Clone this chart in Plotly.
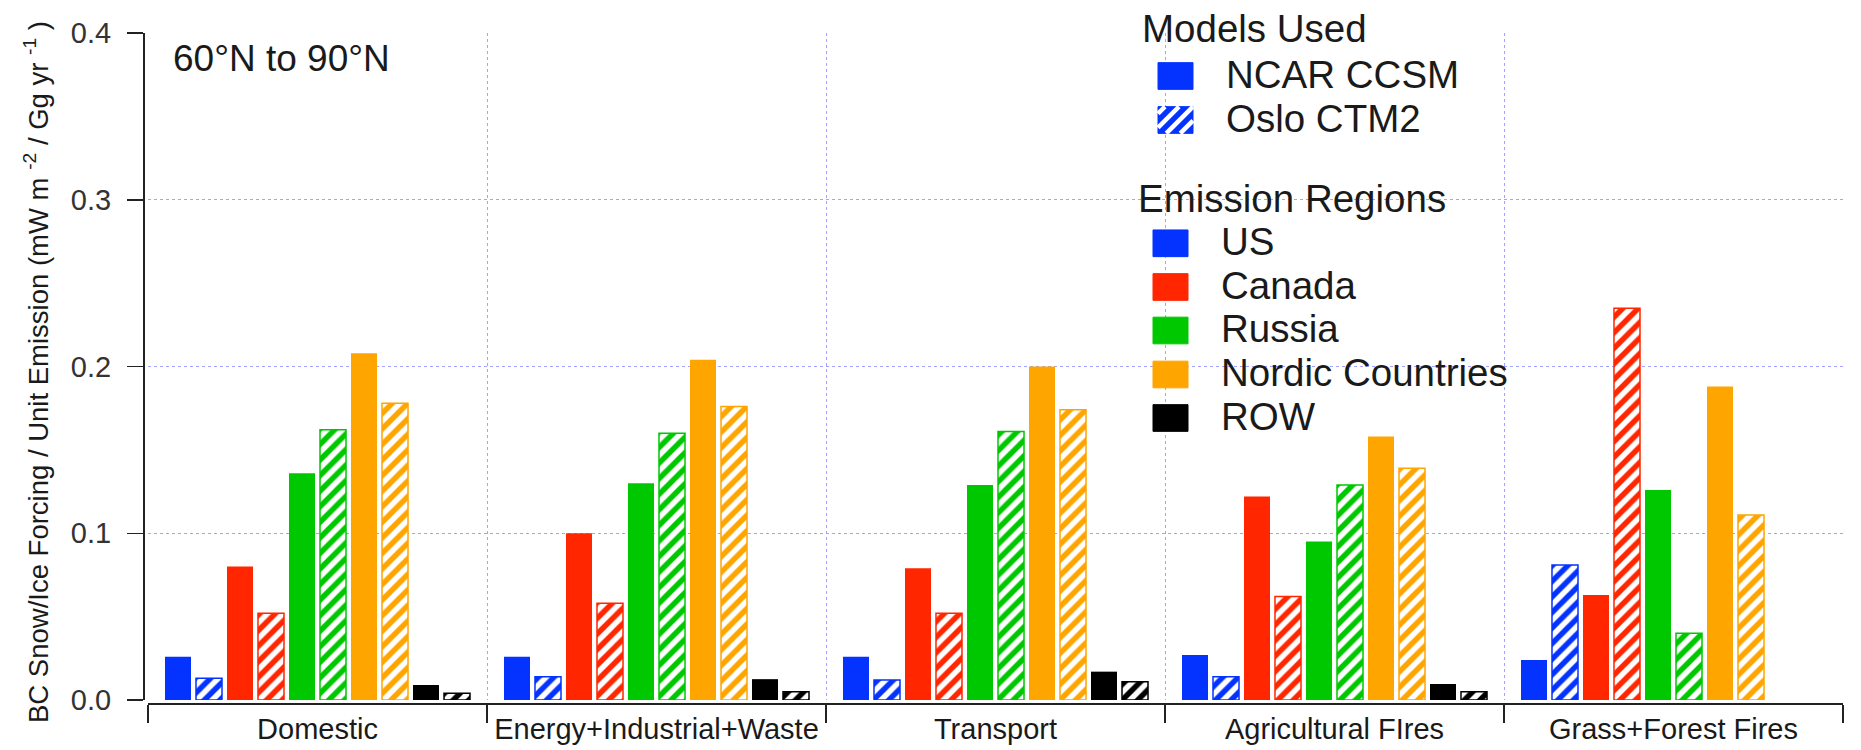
import plotly.graph_objects as go

# ---------------- data ----------------
categories = ["Domestic", "Energy+Industrial+Waste", "Transport",
              "Agricultural FIres", "Grass+Forest Fires"]
regions = ["US", "Canada", "Russia", "Nordic Countries", "ROW"]
region_colors = ["#0433ff", "#ff2600", "#00c800", "#ffa500", "#000000"]
models = ["NCAR CCSM", "Oslo CTM2"]

ncar_us     = [0.026, 0.026, 0.026, 0.027, 0.024]
ncar_canada = [0.080, 0.100, 0.079, 0.122, 0.063]
ncar_russia = [0.136, 0.130, 0.129, 0.095, 0.126]
ncar_nordic = [0.208, 0.204, 0.200, 0.158, 0.188]
ncar_row    = [0.009, 0.0125, 0.017, 0.0096, None]

oslo_us     = [0.013, 0.014, 0.012, 0.014, 0.081]
oslo_canada = [0.052, 0.058, 0.052, 0.062, 0.235]
oslo_russia = [0.162, 0.160, 0.161, 0.129, 0.040]
oslo_nordic = [0.178, 0.176, 0.174, 0.139, 0.111]
oslo_row    = [0.004, 0.005, 0.011, 0.005, None]

ncar_values = [ncar_us, ncar_canada, ncar_russia, ncar_nordic, ncar_row]
oslo_values = [oslo_us, oslo_canada, oslo_russia, oslo_nordic, oslo_row]

y_ticks = [0.0, 0.1, 0.2, 0.3, 0.4]

# ---------------- layout geometry (page pixels) ----------------
W, H = 1861, 750
PL, PR, PT, PB = 143, 1843, 33, 703     # plot frame
ML, MR, MT, MB = PL, W - PR, PT, H - PB
PW, PH = PR - PL, PB - PT
X0 = 148     # first category boundary
Y0 = 700     # y = 0

FONT = "Liberation Sans, Arial, Helvetica, sans-serif"
GRID = "#a3a3ff"
TXT = "#1a1a1a"


def px(x):
    return (x - PL) / PW


def py(y):
    return (PB - y) / PH


fig = go.Figure()

for name, col, nv, ov in zip(regions, region_colors, ncar_values, oslo_values):
    fig.add_trace(go.Bar(
        x=categories, y=nv, name=name + " (NCAR CCSM)",
        marker=dict(color=col, line=dict(width=0)),
        showlegend=False,
    ))
    fig.add_trace(go.Bar(
        x=categories, y=ov, name=name + " (Oslo CTM2)",
        marker=dict(color=col, line=dict(color=col, width=1.5),
                    pattern=dict(shape="/", fgcolor="white", bgcolor=col,
                                 size=11, solidity=0.5, fillmode="replace")),
        showlegend=False,
    ))

shapes = []
annotations = []

# white legend backgrounds (hide the grid behind the legends)
shapes.append(dict(type="rect", xref="paper", yref="paper", layer="between",
                   x0=px(1133), x1=px(1458), y0=py(137), y1=py(8),
                   fillcolor="white", line=dict(width=0)))
shapes.append(dict(type="rect", xref="paper", yref="paper", layer="between",
                   x0=px(1127), x1=px(1512), y0=py(436), y1=py(173),
                   fillcolor="white", line=dict(width=0)))


def swatch(x0, yc, color, hatched=False, w=35.0, h=26.7):
    y0 = yc - h / 2
    shapes.append(dict(type="rect", xref="paper", yref="paper", layer="above",
                       x0=px(x0), x1=px(x0 + w), y0=py(y0 + h), y1=py(y0),
                       fillcolor=color, line=dict(color=color, width=1)))
    if hatched:
        c = 7.0
        while c < w + h:
            if c - h < 0:
                sx, sy = x0, y0 + c
            else:
                sx, sy = x0 + c - h, y0 + h
            if c > w:
                ex, ey = x0 + w, y0 + c - w
            else:
                ex, ey = x0 + c, y0
            shapes.append(dict(type="line", xref="paper", yref="paper", layer="above",
                               x0=px(sx), y0=py(sy), x1=px(ex), y1=py(ey),
                               line=dict(color="white", width=4.5)))
            c += 14.0


def label(x, yc, text, size=38.5):
    annotations.append(dict(xref="paper", yref="paper", x=px(x), y=py(yc),
                            xanchor="left", yanchor="middle", showarrow=False,
                            text=text, font=dict(family=FONT, size=size, color=TXT)))


# Models Used legend
label(1140, 29, "Models Used")
swatch(1158, 76, region_colors[0])
label(1224, 74, models[0])
swatch(1158, 120, region_colors[0], hatched=True)
label(1224, 118, models[1])

# Emission Regions legend
label(1136, 198, "Emission Regions")
row_y = [243.3, 287, 330.5, 374.5, 418]
for nm, col, yc in zip(regions, region_colors, row_y):
    swatch(1153, yc, col)
    label(1219, yc - 2, nm)

# region text
label(171, 59, "60°N to 90°N", size=37)

# y-axis title
annotations.append(dict(xref="paper", yref="paper", x=px(36), y=py(372),
                        xanchor="center", yanchor="middle", showarrow=False,
                        textangle=-90,
                        text="BC Snow/Ice Forcing / Unit Emission (mW m <sup>-2</sup> / Gg yr <sup>-1</sup> )",
                        font=dict(family=FONT, size=27.5, color=TXT)))

fig.update_layout(
    width=W, height=H,
    margin=dict(l=ML, r=MR, t=MT, b=MB, pad=0, autoexpand=False),
    paper_bgcolor="white", plot_bgcolor="white",
    barmode="group", bargap=0.0855, bargroupgap=0.161,
    showlegend=False,
    font=dict(family=FONT, color=TXT),
    shapes=shapes, annotations=annotations,
)

fig.update_xaxes(
    type="category", categoryorder="array", categoryarray=categories,
    domain=[(X0 - PL) / PW, 1], anchor="free", position=0,
    tickson="boundaries", ticks="outside", ticklen=18, tickwidth=1.5, tickcolor="#222",
    showline=True, linecolor="#222", linewidth=1.5,
    showgrid=True, gridcolor=GRID, griddash="dot", gridwidth=1,
    tickfont=dict(family=FONT, size=29, color=TXT),
    range=[-0.5, 4.5], fixedrange=True, automargin=False,
)
fig.update_yaxes(
    range=[0, 0.4], tickvals=y_ticks, tickformat=".1f",
    domain=[(PB - Y0) / PH, 1], anchor="free", position=0,
    ticks="outside", ticklen=16, tickwidth=1.5, tickcolor="#222",
    ticklabelstandoff=10,
    showline=True, linecolor="#222", linewidth=1.5,
    showgrid=True, gridcolor=GRID, griddash="dot", gridwidth=1,
    zeroline=False,
    tickfont=dict(family=FONT, size=29, color="#333"),
    fixedrange=True, automargin=False,
)

# remove the default 8px page margin so the figure fills the window exactly
fig.write_html("out.html",
               config={"displayModeBar": False, "staticPlot": True},
               post_script="document.body.style.margin='0px';"
                           "document.body.style.overflow='hidden';")
